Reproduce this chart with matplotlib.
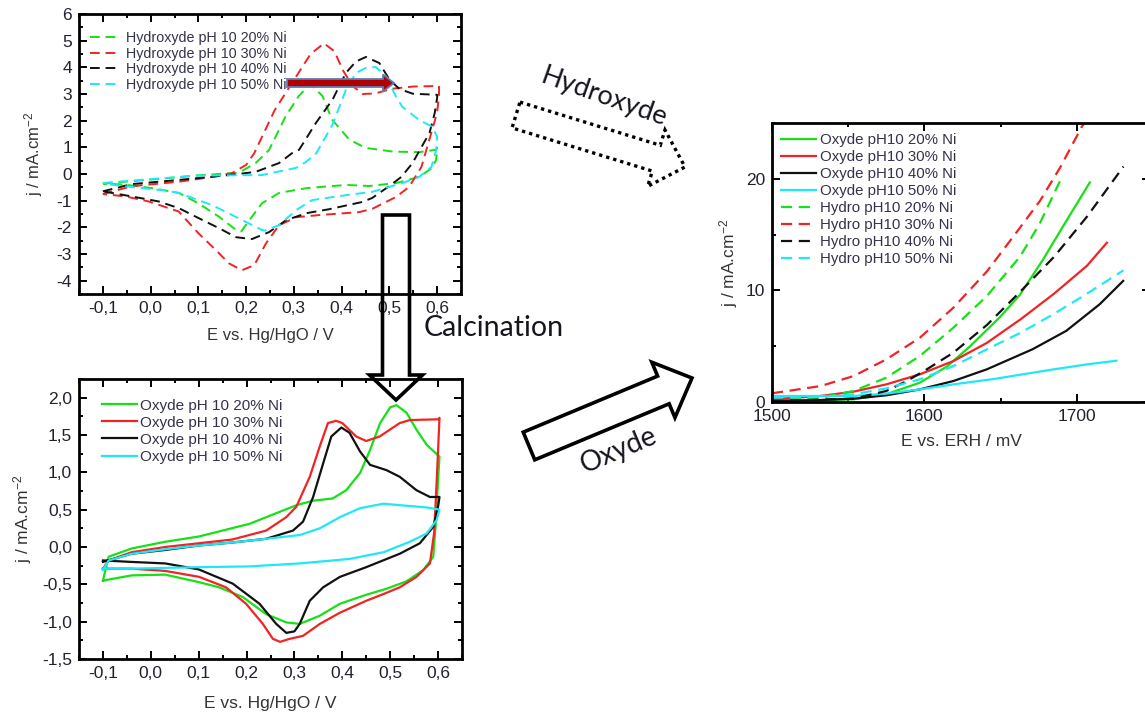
import numpy as np
import matplotlib
matplotlib.use("Agg")
import matplotlib.pyplot as plt
from matplotlib.patches import Polygon
from matplotlib.ticker import MultipleLocator, FuncFormatter

plt.rcParams["font.family"] = ["Liberation Sans", "DejaVu Sans"]
plt.rcParams["mathtext.default"] = "regular"

# ---- colours / labels ----
colors = ["#16e016", "#f02424", "#111111", "#1ee8f8"]
pct_labels = ["20% Ni", "30% Ni", "40% Ni", "50% Ni"]

# ---- hydroxyde CVs (top left), closed loops: anodic then cathodic ----
h20_x = [-0.10, 0.00, 0.10, 0.185, 0.22, 0.248, 0.283, 0.31, 0.335, 0.36, 0.38,
         0.416, 0.45, 0.507, 0.563, 0.598, 0.60, 0.598, 0.59, 0.562, 0.514, 0.458,
         0.41, 0.326, 0.269, 0.233, 0.206, 0.19, 0.179, 0.143, 0.10, 0.059, 0.003,
         -0.053, -0.10]
h20_y = [-0.36, -0.21, -0.05, 0.05, 0.41, 0.90, 2.17, 2.92, 3.38, 2.92, 2.04,
         1.29, 0.98, 0.84, 0.82, 0.91, 0.98, 0.53, 0.23, -0.11, -0.34, -0.45,
         -0.41, -0.53, -0.71, -1.10, -1.75, -2.15, -2.10, -1.60, -1.10, -0.71, -0.53,
         -0.40, -0.36]

h30_x = [-0.10, -0.04, 0.059, 0.129, 0.17, 0.20, 0.217, 0.26, 0.31, 0.335, 0.363,
         0.385, 0.402, 0.423, 0.444, 0.47, 0.507, 0.55, 0.604, 0.604, 0.60, 0.579,
         0.567, 0.541, 0.514, 0.465, 0.437, 0.353, 0.305, 0.269, 0.242, 0.217, 0.191,
         0.164, 0.137, 0.10, 0.059, -0.004, -0.053, -0.10]
h30_y = [-0.75, -0.46, -0.29, -0.11, 0.03, 0.34, 0.78, 2.40, 3.80, 4.50, 4.90,
         4.60, 3.91, 3.30, 3.00, 3.02, 3.20, 3.28, 3.30, 2.97, 2.30, 1.00,
         0.26, -0.49, -0.86, -1.30, -1.43, -1.54, -1.62, -1.92, -2.59, -3.42, -3.61,
         -3.35, -2.86, -2.22, -1.41, -1.03, -0.84, -0.75]

h40_x = [-0.10, -0.04, 0.066, 0.17, 0.22, 0.269, 0.296, 0.311, 0.346, 0.381, 0.409,
         0.43, 0.451, 0.479, 0.50, 0.521, 0.549, 0.60, 0.60, 0.595, 0.584, 0.567,
         0.548, 0.525, 0.50, 0.464, 0.443, 0.374, 0.326, 0.284, 0.248, 0.212, 0.179,
         0.143, 0.10, 0.059, 0.017, -0.04, -0.10]
h40_y = [-0.65, -0.38, -0.21, -0.03, 0.08, 0.41, 0.78, 0.91, 1.91, 2.79, 3.79,
         4.22, 4.39, 4.16, 3.54, 3.19, 3.01, 2.97, 2.85, 2.29, 1.54, 1.00,
         0.40, -0.11, -0.45, -0.90, -1.05, -1.32, -1.47, -1.73, -2.18, -2.44, -2.37,
         -2.03, -1.65, -1.28, -1.03, -0.84, -0.65]

h50_x = [-0.10, 0.00, 0.10, 0.233, 0.305, 0.325, 0.347, 0.381, 0.409, 0.43, 0.451,
         0.472, 0.493, 0.514, 0.527, 0.562, 0.59, 0.60, 0.598, 0.588, 0.562, 0.527,
         0.464, 0.41, 0.338, 0.305, 0.269, 0.24, 0.233, 0.20, 0.129, 0.059, 0.03,
         -0.04, -0.10]
h50_y = [-0.34, -0.19, -0.06, -0.04, 0.23, 0.45, 0.78, 1.85, 3.16, 3.79, 3.98,
         4.01, 3.66, 2.90, 2.52, 2.03, 1.77, 1.39, 0.90, 0.26, -0.11, -0.34,
         -0.67, -0.79, -0.98, -1.35, -1.92, -2.12, -2.10, -1.80, -1.17, -0.71, -0.62,
         -0.49, -0.36]

# ---- oxyde CVs (bottom left) ----
o20_x = [-0.10, -0.088, -0.04, 0.03, 0.10, 0.206, 0.304, 0.339, 0.38, 0.408, 0.437,
         0.458, 0.479, 0.50, 0.513, 0.534, 0.555, 0.576, 0.603, 0.60, 0.595, 0.59,
         0.569, 0.534, 0.492, 0.45, 0.395, 0.353, 0.311, 0.283, 0.241, 0.192, 0.143,
         0.10, 0.03, -0.04, -0.10]
o20_y = [-0.45, -0.13, -0.02, 0.07, 0.14, 0.31, 0.56, 0.62, 0.65, 0.76, 0.99,
         1.30, 1.66, 1.87, 1.90, 1.80, 1.57, 1.37, 1.21, 0.90, 0.30, -0.13,
         -0.31, -0.46, -0.56, -0.64, -0.76, -0.92, -1.03, -1.01, -0.90, -0.67, -0.54,
         -0.47, -0.37, -0.38, -0.45]

o30_x = [-0.10, -0.088, -0.04, 0.03, 0.10, 0.17, 0.241, 0.283, 0.304, 0.332, 0.353,
         0.37, 0.387, 0.40, 0.429, 0.45, 0.478, 0.52, 0.541, 0.60, 0.603, 0.598,
         0.592, 0.583, 0.555, 0.52, 0.486, 0.45, 0.395, 0.353, 0.318, 0.29, 0.27,
         0.255, 0.234, 0.199, 0.157, 0.101, 0.03, -0.04, -0.10]
o30_y = [-0.29, -0.18, -0.07, 0.00, 0.05, 0.10, 0.22, 0.40, 0.54, 0.94, 1.35,
         1.66, 1.69, 1.66, 1.48, 1.42, 1.48, 1.66, 1.70, 1.71, 1.73, 1.00,
         0.20, -0.22, -0.40, -0.54, -0.63, -0.72, -0.88, -1.03, -1.19, -1.23, -1.27,
         -1.23, -1.03, -0.76, -0.54, -0.40, -0.32, -0.29, -0.29]

o40_x = [-0.10, -0.04, 0.03, 0.10, 0.17, 0.241, 0.297, 0.318, 0.339, 0.36, 0.377,
         0.398, 0.415, 0.437, 0.458, 0.492, 0.52, 0.555, 0.583, 0.603, 0.60, 0.59,
         0.562, 0.52, 0.45, 0.395, 0.36, 0.332, 0.311, 0.30, 0.283, 0.262, 0.227,
         0.171, 0.10, 0.03, -0.04, -0.10]
o40_y = [-0.20, -0.09, -0.04, 0.02, 0.06, 0.11, 0.22, 0.34, 0.67, 1.12, 1.48,
         1.60, 1.53, 1.28, 1.10, 1.03, 0.94, 0.76, 0.67, 0.67, 0.54, 0.27,
         0.05, -0.09, -0.27, -0.40, -0.54, -0.72, -1.03, -1.13, -1.15, -1.03, -0.76,
         -0.49, -0.30, -0.22, -0.20, -0.18]

o50_x = [-0.10, -0.088, -0.04, 0.03, 0.10, 0.17, 0.241, 0.311, 0.353, 0.395, 0.437,
         0.486, 0.52, 0.576, 0.603, 0.597, 0.576, 0.541, 0.486, 0.415, 0.311, 0.206,
         0.10, 0.03, -0.04, -0.10]
o50_y = [-0.31, -0.18, -0.09, -0.03, 0.02, 0.06, 0.11, 0.16, 0.25, 0.40, 0.52,
         0.58, 0.56, 0.53, 0.50, 0.36, 0.18, 0.07, -0.07, -0.16, -0.22, -0.26,
         -0.27, -0.28, -0.29, -0.29]

# ---- LSV curves (right) ----
ox20_e = [1500, 1532, 1553.6, 1575, 1597, 1615, 1630, 1649.5, 1662.6, 1678, 1693, 1708.5]
ox20_j = [0.10, 0.15, 0.24, 0.70, 1.73, 3.20, 5.00, 7.60, 9.60, 12.8, 16.2, 19.67]
ox30_e = [1500, 1532, 1553.6, 1575, 1597, 1619, 1641, 1663, 1685, 1706.6, 1719.7]
ox30_j = [0.24, 0.54, 0.93, 1.58, 2.48, 3.67, 5.30, 7.40, 9.70, 12.2, 14.27]
ox40_e = [1500, 1532, 1553.6, 1575, 1597, 1619, 1641, 1671, 1693, 1715, 1730.4]
ox40_j = [0.09, 0.18, 0.30, 0.60, 1.13, 1.88, 2.93, 4.73, 6.37, 8.76, 10.85]
ox50_e = [1500, 1532, 1553.6, 1575, 1597, 1619, 1645, 1685, 1706.6, 1726]
ox50_j = [0.54, 0.54, 0.54, 0.75, 1.13, 1.58, 2.05, 2.93, 3.37, 3.70]
hy20_e = [1500, 1532, 1553.6, 1575, 1597, 1619, 1641, 1662.6, 1675.7, 1690]
hy20_j = [0.10, 0.39, 0.99, 2.18, 4.12, 6.66, 9.50, 13.0, 16.0, 20.1]
hy30_e = [1500, 1532, 1553.6, 1575, 1597, 1619, 1641, 1662.6, 1675.7, 1689, 1703, 1705]
hy30_j = [0.78, 1.43, 2.33, 3.82, 5.76, 8.45, 11.7, 15.6, 18.0, 21.0, 24.6, 25.0]
hy40_e = [1500, 1553.6, 1575, 1588.5, 1601.6, 1619, 1641, 1663, 1685, 1706.6, 1730.6]
hy40_j = [0.10, 0.30, 0.99, 1.88, 2.93, 4.42, 6.90, 9.90, 13.0, 16.6, 21.1]
hy50_e = [1500, 1532, 1553.6, 1575, 1597, 1619, 1641, 1663, 1685, 1706.6, 1730.6]
hy50_j = [0.39, 0.45, 0.69, 1.22, 2.03, 3.22, 4.72, 6.20, 7.90, 9.70, 11.8]

W, H = 1145, 713
fig = plt.figure(figsize=(W / 100, H / 100), dpi=100)


def px_axes(left, top, right, bottom):
    # axes rectangle given in pixel coordinates of the picture
    return fig.add_axes([left / W, 1 - bottom / H, (right - left) / W, (bottom - top) / H])


def comma_fmt(ndec):
    return FuncFormatter(lambda v, p: f"{v:.{ndec}f}".replace(".", ",").replace("-0,0", "0,0")
                         if ndec else f"{v:.0f}")


def style_axes(ax, xmaj, xmin, ymaj, ymin):
    ax.xaxis.set_major_locator(MultipleLocator(xmaj))
    ax.xaxis.set_minor_locator(MultipleLocator(xmin))
    ax.yaxis.set_major_locator(MultipleLocator(ymaj))
    ax.yaxis.set_minor_locator(MultipleLocator(ymin))
    ax.tick_params(which="both", direction="in", top=True, right=True, width=1.4,
                   labelsize=12.5, labelcolor="#22222e", pad=5)
    ax.tick_params(which="major", length=6)
    ax.tick_params(which="minor", length=3)
    for s in ax.spines.values():
        s.set_linewidth(2)


dash = (0, (5, 3))

# top left: hydroxyde
ax1 = px_axes(79, 14, 461, 294)
for x, y, c, lab in zip([h20_x, h30_x, h40_x, h50_x], [h20_y, h30_y, h40_y, h50_y],
                        colors, pct_labels):
    ax1.plot(x, y, color=c, lw=1.4, ls=dash, label="Hydroxyde pH 10 " + lab)
ax1.set_xlim(-0.15, 0.65)
ax1.set_ylim(-4.5, 6)
style_axes(ax1, 0.1, 0.05, 1, 0.5)
ax1.xaxis.set_major_formatter(comma_fmt(1))
ax1.yaxis.set_major_formatter(comma_fmt(0))
ax1.set_xlabel("E vs. Hg/HgO / V", fontsize=12, color="#333333", labelpad=9)
ax1.set_ylabel("j / mA.cm$^{-2}$", fontsize=12, color="#333333", labelpad=8)
ax1.legend(loc="upper left", bbox_to_anchor=(0.025, 0.945), frameon=False, fontsize=10.3,
           handlelength=2.1, handletextpad=0.4, labelspacing=0.12, borderaxespad=0,
           borderpad=0.1, labelcolor="#33334a")

# bottom left: oxyde
ax2 = px_axes(79, 379, 462, 659)
for x, y, c, lab in zip([o20_x, o30_x, o40_x, o50_x], [o20_y, o30_y, o40_y, o50_y],
                        colors, pct_labels):
    ax2.plot(x, y, color=c, lw=1.6, label="Oxyde pH 10 " + lab)
ax2.set_xlim(-0.15, 0.65)
ax2.set_ylim(-1.5, 2.25)
style_axes(ax2, 0.1, 0.05, 0.5, 0.25)
ax2.xaxis.set_major_formatter(comma_fmt(1))
ax2.yaxis.set_major_formatter(comma_fmt(1))
ax2.set_xlabel("E vs. Hg/HgO / V", fontsize=12.5, color="#333333", labelpad=11)
ax2.set_ylabel("j / mA.cm$^{-2}$", fontsize=12.5, color="#333333", labelpad=6)
ax2.legend(loc="upper left", bbox_to_anchor=(0.055, 0.935), frameon=False, fontsize=11,
           handlelength=2.3, handletextpad=0.2, labelspacing=0.2, borderaxespad=0,
           borderpad=0.1, labelcolor="#33334a")

# right: LSV
ax3 = px_axes(772, 123, 1150, 402)
for e, j, c, lab in zip([ox20_e, ox30_e, ox40_e, ox50_e], [ox20_j, ox30_j, ox40_j, ox50_j],
                        colors, pct_labels):
    ax3.plot(e, j, color=c, lw=1.6, label="Oxyde pH10 " + lab)
for e, j, c, lab in zip([hy20_e, hy30_e, hy40_e, hy50_e], [hy20_j, hy30_j, hy40_j, hy50_j],
                        colors, pct_labels):
    ax3.plot(e, j, color=c, lw=1.6, ls=dash, label="Hydro pH10 " + lab)
ax3.set_xlim(1500, 1748)
ax3.set_ylim(0, 25)
style_axes(ax3, 100, 50, 10, 5)
ax3.spines["right"].set_visible(False)
ax3.set_xlabel("E vs. ERH / mV", fontsize=12.5, color="#333333", labelpad=7)
ax3.set_ylabel("j / mA.cm$^{-2}$", fontsize=12.5, color="#333333", labelpad=4)
ax3.legend(loc="upper left", bbox_to_anchor=(0.02, 0.97), frameon=False, fontsize=10.8,
           handlelength=2.3, handletextpad=0.3, labelspacing=0.2, borderaxespad=0,
           borderpad=0.1, labelcolor="#33334a")

# overlay in pixel coordinates for the schematic arrows and captions
ov = fig.add_axes([0, 0, 1, 1])
ov.set_xlim(0, W)
ov.set_ylim(H, 0)
ov.axis("off")
ov.patch.set_alpha(0)


def arrow_outline(tail, tip, shaft, head, head_len):
    x0, y0 = tail
    x1, y1 = tip
    d = np.hypot(x1 - x0, y1 - y0)
    u = np.array([x1 - x0, y1 - y0]) / d
    n = np.array([-u[1], u[0]])
    b = d - head_len
    local = [(0, -shaft / 2), (b, -shaft / 2), (b, -head / 2), (d, 0),
             (b, head / 2), (b, shaft / 2), (0, shaft / 2)]
    return [np.array(tail) + s * u + t * n for s, t in local]


ov.add_patch(Polygon(arrow_outline((396, 215), (396, 400), 27, 53, 25), closed=True,
                     fill=False, ec="black", lw=2.6, joinstyle="miter"))
ov.add_patch(Polygon(arrow_outline((516, 115), (685, 167), 27, 59, 30), closed=True,
                     fill=False, ec="black", lw=2.4, ls=(0, (1, 1.2))))
ov.add_patch(Polygon(arrow_outline((529, 446), (692, 378), 30, 60, 31), closed=True,
                     fill=False, ec="black", lw=2.6, joinstyle="miter"))
ov.add_patch(Polygon(arrow_outline((287, 83), (394, 83), 8, 17, 11), closed=True,
                     fc="#b00000", ec="#5b7fb5", lw=1.3))

ov.text(424, 328, "Calcination", fontsize=20.5, family=["Lato", "DejaVu Sans"],
        ha="left", va="center", color="#151520")
ov.text(604, 97, "Hydroxyde", fontsize=19.5, family=["Lato", "DejaVu Sans"],
        ha="center", va="center", rotation=-19.5, rotation_mode="anchor", color="#151520")
ov.text(619, 450, "Oxyde", fontsize=20, family=["Lato", "DejaVu Sans"],
        ha="center", va="center", rotation=23, rotation_mode="anchor", color="#151520")

fig.savefig("out.png", dpi=100)
